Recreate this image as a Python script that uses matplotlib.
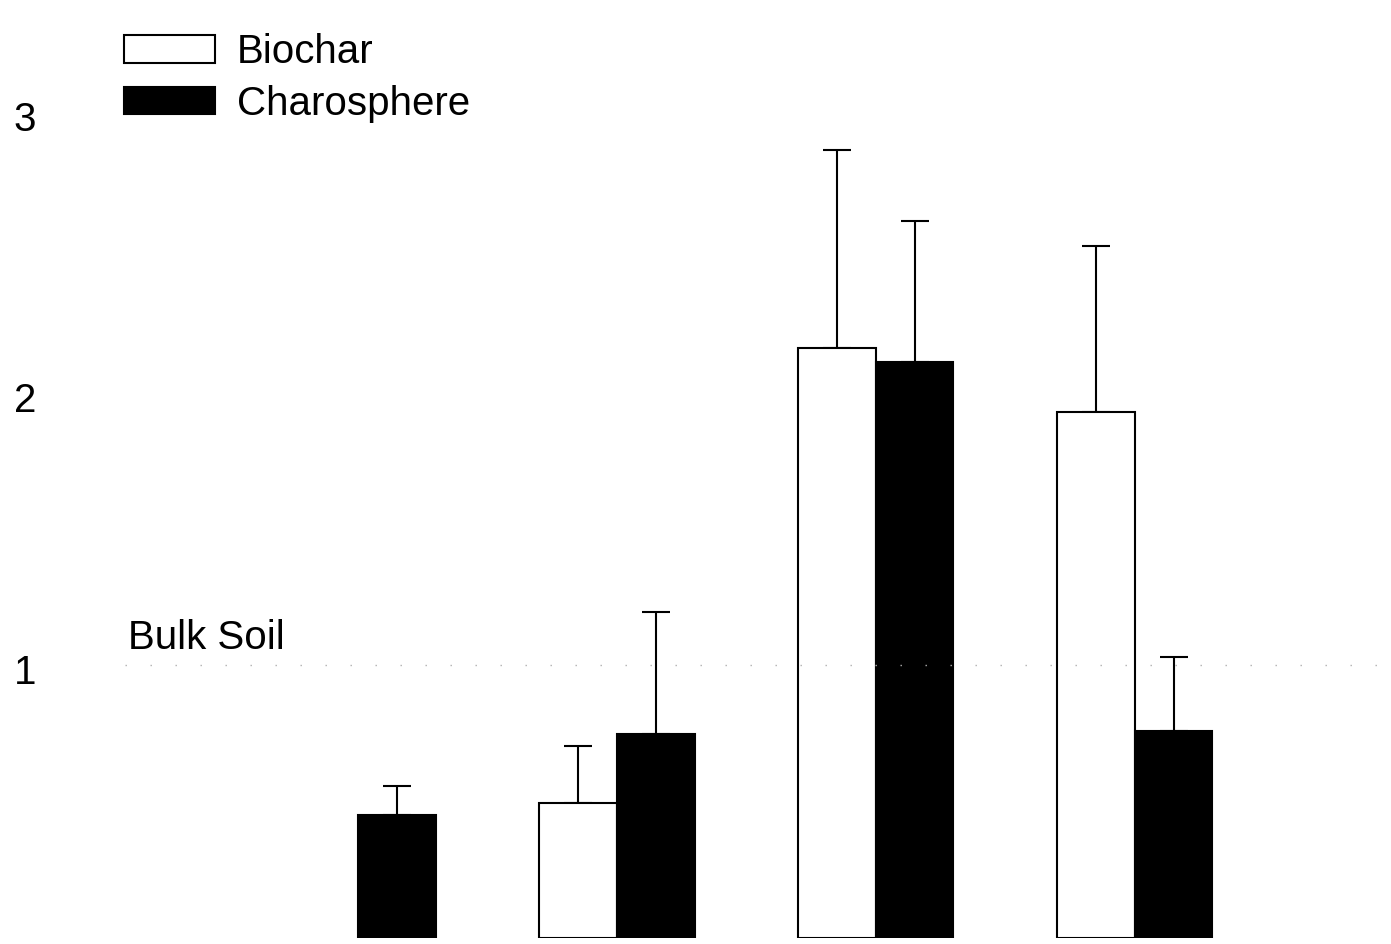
import numpy as np
import matplotlib.pyplot as plt
from matplotlib.transforms import ScaledTranslation

plt.rcParams['font.family'] = ['Liberation Sans', 'DejaVu Sans']

# bar heights and upper error (one-sided) for each group
biochar = [np.nan, 0.494, 2.165, 1.930]
biochar_err = [0.0, 0.209, 0.725, 0.608]
charosphere = [0.450, 0.747, 2.114, 0.758]
charosphere_err = [0.107, 0.447, 0.516, 0.271]
yticks = [1, 2, 3]
bulk_soil = 1.0

fig = plt.figure(figsize=(13.91, 9.44), dpi=100)
ax = fig.add_axes([125 / 1391, 6 / 944, 1 - 125 / 1391, 1 - 6 / 944])

x = np.arange(len(charosphere))
w = 0.30

err_kw = dict(ecolor='black', elinewidth=1.5, capsize=10, capthick=1.5)

ax.bar(x - w / 2, biochar, w, color='white', edgecolor='black', linewidth=1.5,
       label='Biochar', zorder=2)
ax.errorbar(x - w / 2, biochar, yerr=[np.zeros(4), biochar_err], fmt='none',
            zorder=1, **err_kw)
ax.bar(x + w / 2, charosphere, w, color='black', edgecolor='black', linewidth=1.5,
       label='Charosphere', zorder=2)
ax.errorbar(x + w / 2, charosphere, yerr=[np.zeros(4), charosphere_err], fmt='none',
            zorder=1, **err_kw)

# bulk soil reference line
ax.axhline(bulk_soil, color='#b0b0b0', linewidth=1, dashes=(1, 17), zorder=5)
ax.text(-0.888, 1.06, 'Bulk Soil', fontsize=29, va='baseline', ha='left')

ax.set_xlim(-0.90, 3.99)
ax.set_ylim(0, 3.44)
ax.set_yticks(yticks)
ax.set_yticklabels([str(t) for t in yticks], fontsize=29)
ax.tick_params(axis='y', length=0, pad=64)
# small vertical nudges of the tick labels (points)
for lab, dy in zip(ax.get_yticklabels(), [-3, -3, 3]):
    lab.set_transform(lab.get_transform()
                      + ScaledTranslation(0, dy / 72, fig.dpi_scale_trans))
ax.set_xticks([])
for s in ax.spines.values():
    s.set_visible(False)

fig.legend(loc='upper left', bbox_to_anchor=(124 / 1391, 1 - 33 / 944),
           frameon=False, fontsize=29, handlelength=2.26, handleheight=0.67,
           handletextpad=0.55, labelspacing=0.34, borderpad=0, borderaxespad=0)

fig.savefig('out.png', dpi=100)
